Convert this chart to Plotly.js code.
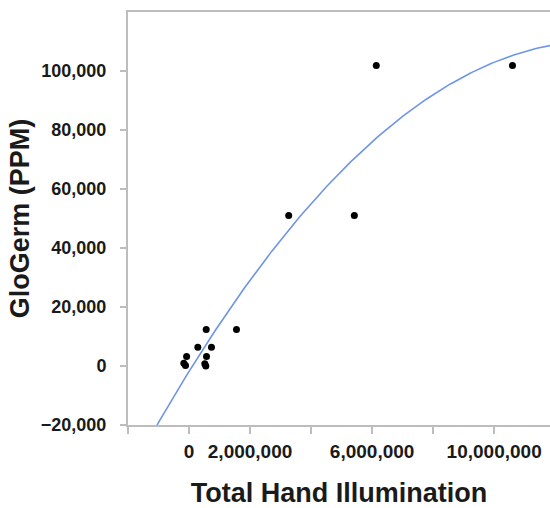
<!DOCTYPE html>
<html>
<head>
<meta charset="utf-8">
<script src="https://cdn.plot.ly/plotly-3.0.1.min.js"></script>
<style>html,body{margin:0;padding:0;background:#fff;}#chart{width:550px;height:508px;}</style>
</head>
<body>
<div id="chart"></div>
<script>
// Data
var illumination = [563000, 1555000, 288000, 736000, -80000, 573000, -170000, -115000, 517000, 550000, 3267000, 5417000, 6137000, 10600000];
var gloGermPPM   = [12400, 12400, 6370, 6370, 3220, 3220, 950, 170, 750, 0, 51000, 51000, 101900, 101900];

var xTickVals = [-2000000, 0, 2000000, 4000000, 6000000, 8000000, 10000000];
var xTickText = ['', '0', '2,000,000', '', '6,000,000', '', '10,000,000'];
var yTickVals = [-20000, 0, 20000, 40000, 60000, 80000, 100000];

// Degree-2 polynomial least-squares trendline computed from the data
function polyFit2(xs, ys) {
  var n = xs.length, S = [0,0,0,0,0], T = [0,0,0];
  for (var i = 0; i < n; i++) {
    var x = xs[i] / 1e6, y = ys[i];
    var p = 1;
    for (var k = 0; k < 5; k++) { S[k] += p; if (k < 3) T[k] += p * y; p *= x; }
  }
  var A = [[S[0],S[1],S[2],T[0]],[S[1],S[2],S[3],T[1]],[S[2],S[3],S[4],T[2]]];
  for (var c = 0; c < 3; c++) {
    for (var r = c + 1; r < 3; r++) {
      var f = A[r][c] / A[c][c];
      for (var k2 = c; k2 < 4; k2++) A[r][k2] -= f * A[c][k2];
    }
  }
  var coef = [0,0,0];
  for (var r2 = 2; r2 >= 0; r2--) {
    var s = A[r2][3];
    for (var k3 = r2 + 1; k3 < 3; k3++) s -= A[r2][k3] * coef[k3];
    coef[r2] = s / A[r2][r2];
  }
  return coef;
}
var coef = polyFit2(illumination, gloGermPPM);
var trendX = [], trendY = [];
for (var i = 0; i <= 200; i++) {
  var xv = -2000000 + i * (14000000 / 200);
  var xm = xv / 1e6;
  trendX.push(xv);
  trendY.push(coef[0] + coef[1] * xm + coef[2] * xm * xm);
}

var font = {family: 'Liberation Sans, Arial, sans-serif', weight: 'bold', color: '#1a1a1a'};

var traces = [
  {x: trendX, y: trendY, type: 'scatter', mode: 'lines',
   line: {color: '#6f95e6', width: 1.6}, hoverinfo: 'skip', showlegend: false},
  {x: illumination, y: gloGermPPM, type: 'scatter', mode: 'markers',
   marker: {color: '#000000', size: 7}, showlegend: false}
];

var layout = {
  width: 550, height: 508,
  margin: {l: 128, r: 0, t: 12, b: 83},
  paper_bgcolor: '#ffffff', plot_bgcolor: '#ffffff',
  showlegend: false,
  xaxis: {
    range: [-2000000, 11830000],
    tickvals: xTickVals, ticktext: xTickText,
    showgrid: false, zeroline: false,
    showline: true, linecolor: '#bdbdbd', linewidth: 2, mirror: true,
    ticks: 'outside', ticklen: 7, tickwidth: 1.5, tickcolor: '#bdbdbd',
    tickfont: Object.assign({size: 19}, font),
    ticklabelstandoff: 1,
    title: {text: 'Total Hand Illumination', font: Object.assign({size: 27}, font), standoff: 22}
  },
  yaxis: {
    range: [-20000, 120000],
    tickvals: yTickVals, tickformat: ',d',
    showgrid: false, zeroline: false,
    showline: true, linecolor: '#bdbdbd', linewidth: 2,
    ticks: 'outside', ticklen: 6, tickwidth: 1.5, tickcolor: '#bdbdbd',
    tickfont: Object.assign({size: 18}, font),
    ticklabelstandoff: 10,
    title: {text: 'GloGerm (PPM)', font: Object.assign({size: 27}, font), standoff: 3}
  }
};

Plotly.newPlot('chart', traces, layout, {displayModeBar: false, staticPlot: true});
</script>
</body>
</html>
